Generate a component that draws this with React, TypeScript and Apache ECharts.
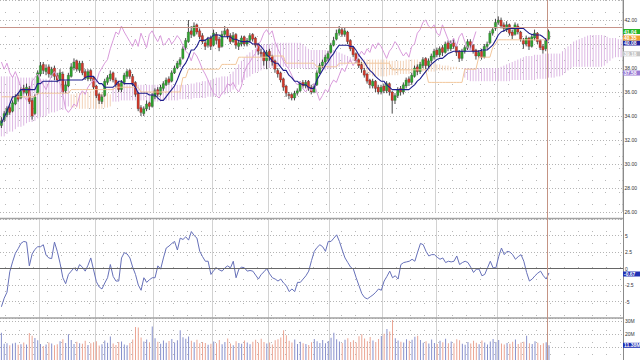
import React, { useEffect, useRef } from 'react';
import * as echarts from 'echarts';

// [open, close, low, high]
const candles: number[][] = [
  [33.2, 33.6, 33.0, 33.9], [33.7, 34.2, 33.5, 34.4], [34.1, 34.6, 33.9, 34.8], [34.7, 34.3, 34.1, 34.9], [34.4, 35.1, 34.3, 35.3],
  [35.0, 35.6, 34.9, 35.8], [35.7, 35.4, 35.2, 35.9], [35.5, 36.2, 35.4, 36.4], [36.3, 36.0, 35.8, 36.6], [35.9, 36.4, 35.7, 36.7],
  [36.3, 35.2, 35.0, 36.5], [35.3, 34.0, 33.7, 35.5], [34.2, 35.6, 34.1, 35.8], [35.9, 37.6, 35.8, 37.8], [37.5, 38.2, 37.3, 38.5],
  [38.3, 37.8, 37.5, 38.5], [37.7, 38.0, 37.4, 38.3], [38.1, 37.5, 37.2, 38.3], [37.4, 37.9, 37.2, 38.1], [38.0, 37.3, 37.0, 38.2],
  [37.4, 37.0, 36.8, 37.6], [37.0, 37.6, 36.9, 37.9], [37.5, 36.0, 35.8, 37.7], [36.1, 36.6, 35.9, 36.9], [36.5, 37.4, 36.4, 37.6],
  [37.3, 38.1, 37.2, 38.4], [38.0, 38.5, 37.8, 38.8], [38.6, 37.9, 37.7, 38.7], [37.8, 38.4, 37.6, 38.6], [38.4, 37.6, 37.4, 38.6],
  [37.7, 37.2, 37.0, 37.9], [37.1, 37.7, 36.9, 37.9], [37.8, 37.1, 36.9, 37.9], [37.2, 36.4, 36.2, 37.3], [36.5, 35.7, 35.5, 36.6],
  [35.8, 35.3, 35.0, 35.9], [35.2, 35.6, 35.0, 35.8], [35.7, 36.9, 35.6, 37.1], [36.8, 37.2, 36.6, 37.4], [37.1, 37.5, 36.9, 37.8],
  [37.6, 37.0, 36.8, 37.7], [37.0, 36.6, 36.4, 37.2], [36.7, 36.2, 36.0, 36.9], [36.2, 36.8, 36.0, 37.0], [36.8, 37.4, 36.6, 37.6],
  [37.3, 37.7, 37.1, 37.9], [37.8, 37.3, 37.1, 37.9], [37.3, 36.7, 36.5, 37.5], [36.8, 35.8, 35.6, 36.9], [35.9, 34.6, 34.4, 36.0],
  [34.7, 34.3, 34.0, 34.9], [34.2, 34.6, 34.0, 34.8], [34.6, 35.0, 34.4, 35.3], [35.1, 34.8, 34.5, 35.2], [34.8, 35.7, 34.7, 35.9],
  [35.6, 36.1, 35.4, 36.3], [36.2, 35.8, 35.6, 36.4], [35.8, 36.4, 35.7, 36.6], [36.3, 36.7, 36.1, 36.9], [36.6, 37.0, 36.5, 37.2],
  [37.1, 36.8, 36.6, 37.3], [36.9, 37.6, 36.8, 37.8], [37.6, 38.0, 37.5, 38.2], [38.0, 38.4, 37.9, 38.6], [38.3, 38.7, 38.1, 38.9],
  [38.8, 39.6, 38.7, 39.8], [39.7, 40.3, 39.5, 40.5], [40.2, 41.0, 40.1, 42.0], [41.1, 40.8, 40.5, 41.5], [40.7, 41.5, 40.6, 41.8],
  [41.6, 41.0, 40.8, 41.7], [41.1, 40.6, 40.4, 41.3], [40.7, 40.2, 40.0, 40.9], [40.1, 39.8, 39.5, 40.4], [39.9, 40.4, 39.7, 40.6],
  [40.5, 39.8, 39.5, 40.7], [39.9, 40.9, 39.8, 41.2], [40.8, 40.3, 40.0, 41.0], [40.4, 39.7, 39.4, 40.6], [39.8, 40.8, 39.7, 41.1],
  [40.8, 41.1, 40.6, 41.5], [41.2, 40.6, 40.4, 41.3], [40.7, 40.2, 40.0, 40.9], [40.2, 40.7, 40.1, 41.0], [40.8, 39.9, 39.6, 40.9],
  [39.8, 40.1, 39.5, 40.3], [40.0, 40.5, 39.8, 40.7], [40.6, 40.0, 39.8, 40.7], [40.0, 40.3, 39.8, 40.5], [40.3, 40.7, 40.1, 40.9],
  [40.8, 40.4, 40.2, 40.9], [40.5, 39.9, 39.7, 40.6], [40.0, 39.4, 39.1, 40.1], [39.3, 39.2, 38.9, 39.6], [39.3, 38.6, 38.2, 39.4],
  [38.6, 39.3, 37.9, 39.5], [39.4, 39.0, 38.6, 39.6], [39.0, 38.5, 38.2, 39.1], [38.6, 37.9, 37.6, 38.7], [37.8, 37.5, 37.2, 38.0],
  [37.6, 37.0, 36.8, 37.7], [37.1, 36.4, 36.1, 37.2], [36.5, 35.9, 35.6, 36.6], [35.8, 35.7, 35.4, 36.0], [35.8, 35.5, 35.3, 35.9],
  [35.5, 35.9, 35.3, 36.1], [35.9, 36.1, 35.7, 36.3], [36.1, 36.7, 36.0, 36.9], [36.8, 36.5, 36.3, 37.0], [36.5, 36.8, 36.3, 37.0],
  [36.9, 36.3, 36.1, 37.0], [36.4, 36.0, 35.8, 36.6], [36.0, 36.5, 35.9, 36.7], [36.6, 37.6, 36.5, 37.8], [37.6, 38.2, 37.5, 38.4],
  [38.2, 38.5, 38.0, 38.7], [38.5, 38.9, 38.3, 39.1], [38.8, 39.2, 38.6, 39.4], [39.3, 39.9, 39.2, 40.1], [39.9, 40.3, 39.8, 40.6],
  [40.4, 40.9, 40.3, 41.2], [40.9, 41.2, 40.7, 41.5], [41.2, 40.8, 40.6, 41.4], [40.8, 41.1, 40.6, 41.4], [41.0, 40.2, 40.0, 41.1],
  [40.3, 39.6, 39.4, 40.4], [39.7, 39.1, 38.9, 39.8], [39.2, 38.6, 38.4, 39.3], [38.7, 38.2, 38.0, 38.8], [38.3, 37.9, 37.6, 38.5],
  [37.8, 37.4, 37.2, 38.0], [37.5, 36.9, 36.7, 37.6], [37.0, 36.6, 36.3, 37.1], [36.5, 36.9, 36.3, 37.1], [36.9, 36.3, 36.0, 37.0],
  [36.4, 36.0, 35.8, 36.6], [36.0, 36.4, 35.8, 36.6], [36.5, 36.1, 35.9, 36.7], [36.1, 36.7, 35.9, 36.9], [36.7, 36.0, 35.7, 36.8],
  [36.0, 35.3, 34.2, 36.1], [35.3, 35.7, 35.0, 35.9], [35.7, 36.2, 35.5, 36.4], [36.3, 36.0, 35.7, 36.5], [36.0, 36.6, 35.8, 36.8],
  [36.5, 37.0, 36.3, 37.2], [37.1, 36.8, 36.5, 37.3], [36.8, 37.4, 36.6, 37.6], [37.3, 38.0, 37.2, 38.2], [38.1, 37.7, 37.4, 38.3],
  [37.7, 38.3, 37.5, 38.5], [38.2, 38.7, 38.0, 38.9], [38.8, 38.2, 37.9, 38.9], [38.2, 38.6, 38.0, 38.8], [38.6, 39.0, 38.4, 39.2],
  [38.9, 39.4, 38.7, 39.6], [39.5, 39.1, 38.9, 39.7], [39.1, 39.6, 38.9, 39.8], [39.7, 39.3, 39.0, 39.9], [39.3, 40.0, 39.2, 40.2],
  [40.1, 39.6, 39.4, 40.3], [39.6, 40.1, 39.4, 40.3], [40.1, 39.8, 39.6, 40.4], [39.8, 39.3, 39.0, 39.9], [39.4, 38.8, 38.5, 39.5],
  [38.8, 39.4, 38.6, 39.6], [39.4, 39.7, 39.2, 39.9], [39.7, 40.2, 39.5, 40.4], [40.2, 39.9, 39.6, 40.4], [39.9, 39.4, 39.2, 40.0],
  [39.5, 39.0, 38.7, 39.6], [39.0, 39.3, 38.8, 39.5], [39.4, 38.9, 38.7, 39.6], [38.9, 39.8, 38.8, 40.0], [39.8, 40.0, 39.6, 40.2],
  [40.1, 40.9, 40.0, 41.1], [40.9, 41.2, 40.7, 41.4], [41.3, 41.8, 41.1, 42.1], [41.8, 42.0, 41.6, 42.3], [42.0, 41.5, 41.3, 42.2],
  [41.6, 41.3, 41.0, 41.8], [41.2, 41.6, 41.0, 41.9], [41.6, 40.9, 40.7, 41.7], [41.0, 40.7, 40.4, 41.2], [40.8, 41.6, 40.7, 41.8],
  [41.5, 41.0, 40.8, 41.7], [41.0, 40.4, 40.2, 41.1], [40.3, 40.0, 39.6, 40.5], [40.0, 40.5, 39.8, 40.7], [40.5, 39.8, 39.5, 40.6],
  [39.8, 40.6, 39.7, 40.8], [40.5, 40.9, 40.3, 41.2], [40.9, 40.2, 40.0, 41.0], [40.3, 39.7, 39.5, 40.4], [39.8, 39.5, 39.2, 40.0],
  [39.6, 40.3, 39.4, 40.5], [40.4, 41.04, 40.3, 41.2],
];

const tenkan: number[] = [
  33.4, 33.9, 34.4, 35.0, 35.6, 35.6, 35.9, 36.2, 36.2, 36.2,
  36.2, 36.2, 36.2, 36.7, 36.7, 36.9, 36.9, 36.9, 36.9, 36.9,
  36.9, 37.0, 37.0, 37.0, 37.0, 37.0, 37.0, 37.0, 37.0, 37.0,
  37.2, 37.3, 37.3, 37.3, 37.0, 36.7, 36.7, 36.4, 36.4, 36.4,
  36.4, 36.6, 36.9, 36.9, 36.7, 36.7, 36.7, 36.7, 36.4, 35.9,
  35.9, 35.9, 35.9, 35.75, 35.75, 35.75, 35.5, 35.3, 35.3, 35.6,
  35.9, 36.2, 36.5, 37.0, 37.6, 38.1, 38.4, 38.9, 39.5, 39.5,
  39.8, 40.3, 40.3, 40.3, 40.5, 40.5, 40.75, 40.75, 40.75, 40.6,
  40.6, 40.6, 40.6, 40.4, 40.4, 40.3, 40.2, 40.2, 40.2, 40.2,
  40.0, 40.0, 40.0, 39.8, 39.5, 39.1, 38.9, 38.6, 38.4, 38.4,
  38.1, 37.8, 37.8, 37.4, 37.2, 36.9, 36.9, 36.7, 36.6, 36.6,
  36.4, 36.3, 36.3, 37.0, 37.4, 37.8, 38.2, 38.5, 38.9, 39.2,
  39.6, 39.9, 39.9, 39.9, 39.9, 39.8, 39.8, 39.5, 39.1, 38.8,
  38.5, 38.1, 37.8, 37.6, 37.3, 37.1, 36.9, 36.9, 36.6, 36.4,
  36.2, 36.2, 36.2, 36.2, 36.2, 36.2, 36.2, 36.4, 36.6, 36.9,
  37.1, 37.4, 37.7, 38.0, 38.3, 38.5, 38.7, 38.8, 38.8, 39.0,
  39.2, 39.3, 39.4, 39.4, 39.4, 39.4, 39.4, 39.4, 39.4, 39.4,
  39.4, 39.4, 39.5, 39.5, 39.5, 39.7, 39.9, 40.3, 40.75, 41.0,
  41.1, 41.2, 41.3, 41.3, 41.3, 41.3, 41.3, 41.3, 41.1, 40.9,
  40.8, 40.75, 40.75, 40.75, 40.6, 40.4, 40.08,
];

const kijun: number[] = [
  35.6, 35.6, 35.6, 35.6, 35.6, 35.6, 35.6, 35.6, 35.6, 35.6,
  35.6, 35.6, 35.6, 35.9, 35.9, 35.9, 35.9, 35.9, 35.9, 35.9,
  35.9, 35.9, 35.9, 35.9, 35.9, 36.2, 36.2, 36.2, 36.2, 36.2,
  36.2, 36.2, 36.2, 36.2, 36.2, 36.2, 36.2, 36.2, 36.2, 36.2,
  36.2, 36.4, 36.4, 36.4, 36.4, 36.4, 36.4, 36.4, 36.4, 36.4,
  36.0, 36.0, 36.0, 36.0, 36.0, 36.0, 36.0, 36.0, 36.0, 36.0,
  36.0, 36.0, 36.0, 36.0, 36.0, 37.2, 37.2, 37.9, 37.9, 37.9,
  37.9, 37.9, 37.9, 37.9, 37.9, 37.9, 37.9, 37.9, 37.9, 38.3,
  38.3, 38.3, 38.3, 38.3, 38.3, 38.9, 38.9, 38.9, 38.9, 38.9,
  38.9, 38.9, 38.9, 38.9, 38.9, 38.9, 38.9, 39.0, 39.0, 39.0,
  39.0, 39.0, 38.4, 38.4, 38.4, 38.4, 38.4, 38.4, 38.4, 38.4,
  38.4, 38.4, 38.4, 38.1, 38.1, 38.1, 38.1, 38.1, 38.1, 38.1,
  38.1, 38.4, 38.4, 38.4, 38.4, 38.4, 38.4, 38.4, 38.4, 38.4,
  38.4, 38.4, 38.4, 38.4, 38.4, 38.4, 38.4, 38.4, 38.4, 38.4,
  37.85, 37.85, 37.85, 37.85, 37.85, 37.85, 37.85, 37.85, 37.85, 37.85,
  37.85, 37.85, 37.85, 36.8, 36.8, 36.8, 36.8, 36.8, 36.8, 36.8,
  36.8, 36.8, 36.8, 36.8, 36.8, 36.8, 37.9, 37.9, 37.9, 37.9,
  37.9, 38.9, 38.9, 38.9, 38.9, 38.9, 39.7, 40.0, 40.35, 40.35,
  40.35, 40.35, 40.35, 40.35, 40.35, 40.35, 40.35, 40.35, 40.35, 40.35,
  40.35, 40.35, 40.35, 40.35, 40.35, 40.35, 40.35,
];

// Senkou spans, already shifted 26 bars ahead (length = candles + 26)
const spanA: number[] = [
  32.3, 32.3, 32.5, 32.7, 32.7, 32.9, 33.1, 33.1, 33.2, 33.4,
  33.5, 33.5, 33.6, 33.8, 33.9, 33.9, 34.0, 34.2, 34.3, 34.3,
  34.4, 34.5, 34.5, 34.6, 34.8,
  35.8, 35.8, 35.9, 35.9, 36.0, 36.0, 36.0, 36.1, 36.1, 36.0,
  36.0, 36.0, 35.9, 35.9, 35.8,
  35.2, 35.2, 35.2, 35.3, 35.3, 35.3, 35.3, 35.3, 35.3, 35.3,
  35.3, 35.3, 35.3, 35.2, 35.2, 35.2, 35.2, 35.2, 35.3, 35.3,
  35.3, 35.3, 35.3, 35.3, 35.4, 35.4, 35.4, 35.4, 35.4, 35.5,
  35.5, 35.5, 35.5, 35.5, 35.6, 35.6,
  35.6, 35.7, 35.7, 35.8, 35.8, 35.9, 36.0, 36.2, 36.4, 36.6,
  36.8, 37.0, 37.2, 37.3, 37.5, 37.6, 37.7, 37.8, 37.9, 38.0,
  38.0, 38.0, 38.1, 38.1, 38.1, 38.1, 38.1, 38.0, 38.0, 38.0,
  38.0, 38.0, 38.0, 37.9, 37.9, 37.9, 37.9, 37.8, 37.8, 37.8,
  37.8, 37.9, 37.9, 38.0, 38.0, 38.1, 38.2, 38.3, 38.4, 38.5,
  38.6, 38.6,
  38.7, 38.7, 38.7, 38.7, 38.7, 38.7, 38.7, 38.7, 38.7, 38.7,
  38.7, 38.6, 38.6, 38.6, 38.6, 38.6, 38.6, 38.7, 38.7, 38.7,
  38.7, 38.7, 38.6, 38.6, 38.5, 38.5, 38.4, 38.4, 38.3, 38.3,
  38.2, 38.2, 38.2, 38.1, 38.1, 38.1, 38.0, 38.0,
  37.2, 37.0, 36.9, 36.9, 36.9, 36.9, 36.9, 36.9, 36.9, 36.9,
  36.9, 36.9, 36.9,
  36.9, 36.9, 36.9, 36.9, 37.0, 37.0, 37.0, 37.0, 37.0, 37.0,
  37.0, 37.0, 37.0, 37.1, 37.1, 37.1, 37.1, 37.2, 37.2, 37.2,
  37.3, 37.3,
  37.4, 37.6, 37.8, 38.0, 38.1, 38.1, 38.1, 38.1, 38.1, 38.1,
  38.1, 38.1, 38.1, 38.1, 38.1, 38.2, 38.4, 38.6, 38.8, 38.9,
  38.9, 38.9,
];

const spanB: number[] = [
  37.3, 37.3, 37.3, 37.3, 37.3, 37.3, 37.2, 37.2, 37.2, 37.2,
  37.2, 37.2, 37.1, 37.1, 37.1, 37.1, 37.1, 37.0, 37.0, 37.0,
  37.0, 37.0, 37.0, 37.0, 37.0,
  34.7, 34.7, 34.7, 34.6, 34.6, 34.6, 34.6, 34.6, 34.6, 34.6,
  34.6, 34.6, 34.7, 34.7, 34.8,
  36.4, 36.5, 36.6, 36.6, 36.6, 36.6, 36.6, 36.6, 36.6, 36.6,
  36.6, 36.6, 36.6, 36.6, 36.6, 36.6, 36.6, 36.6, 36.6, 36.6,
  36.6, 36.6, 36.6, 36.6, 36.6, 36.6, 36.6, 36.6, 36.7, 36.7,
  36.8, 36.8, 36.9, 36.9, 37.0, 37.0,
  37.1, 37.2, 37.2, 37.3, 37.3, 37.3, 37.5, 37.7, 38.0, 38.3,
  38.6, 38.9, 39.1, 39.3, 39.5, 39.6, 39.8, 39.9, 40.0, 40.0,
  40.0, 40.1, 40.1, 40.1, 40.1, 40.1, 40.1, 40.1, 40.1, 40.1,
  40.1, 40.1, 40.0, 39.8, 39.6, 39.5, 39.5, 39.5, 39.5, 39.5,
  39.5, 39.5, 39.5, 39.5, 39.4, 39.3, 39.2, 39.1, 39.0, 38.9,
  38.8, 38.7,
  38.5, 38.2, 37.9, 37.6, 37.4, 37.3, 37.3, 37.3, 37.3, 37.3,
  37.3, 37.4, 37.4, 37.4, 37.4, 37.5, 37.5, 37.5, 37.5, 37.6,
  37.6, 37.6, 37.7, 37.7, 37.7, 37.7, 37.7, 37.7, 37.8, 37.8,
  37.8, 37.8, 37.8, 37.8, 37.9, 37.9, 37.9, 37.9,
  38.0, 38.0, 38.0, 38.0, 38.0, 38.0, 38.0, 38.0, 38.0, 38.0,
  38.0, 38.0, 38.0,
  38.1, 38.2, 38.3, 38.4, 38.5, 38.6, 38.7, 38.8, 38.9, 39.0,
  39.0, 39.0, 39.1, 39.1, 39.1, 39.2, 39.2, 39.2, 39.2, 39.2,
  39.2, 39.2,
  39.4, 39.6, 39.8, 40.0, 40.2, 40.3, 40.4, 40.5, 40.6, 40.7,
  40.75, 40.75, 40.75, 40.75, 40.75, 40.7, 40.6, 40.5, 40.5, 40.5,
  40.4, 40.4,
];

const oscillator: number[] = [
  -5.8, -4.5, -3.6, -0.5, 1.0, 2.3, 3.0, 3.8, 4.1, 4.0,
  0.4, 2.2, 2.9, 3.3, 3.3, 3.6, 2.0, 1.6, 1.5, 4.0,
  2.6, 0.8, -1.4, -2.3, -0.9, -0.4, 0.1, -0.4, 0.6, 0.2,
  -0.4, 0.5, 1.6, -0.2, -2.0, -2.8, -3.1, -2.2, -1.4, 0.6,
  -1.2, -1.9, -1.9, 1.6, 2.4, 2.2, 1.6, 0.2, -0.9, -2.5,
  -3.3, -1.4, -2.1, -1.7, -1.4, -1.4, 0.4, -0.1, 1.6, 3.1,
  3.4, 3.8, 4.1, 2.8, 4.6, 4.4, 4.8, 4.3, 5.6, 5.0,
  4.6, 2.6, 1.8, 1.1, 1.1, -0.9, -0.3, 0.1, -0.2, -0.4,
  0.1, 0.4, 0.1, 1.1, -1.4, -0.1, 0.2, 0.1, -0.4, -0.3,
  -0.4, -1.0, -1.6, -0.9, -0.5, 0.0, -0.8, -1.4, -1.6, -1.9,
  -1.6, -2.2, -2.6, -3.5, -3.1, -3.5, -2.1, -2.1, -1.6, -1.1,
  -0.4, 1.2, 2.6, 3.2, 3.6, 3.3, 2.6, 4.1, 4.1, 4.6,
  5.1, 4.1, 2.8, 1.6, 0.9, 0.2, -0.1, -1.4, -2.6, -3.8,
  -4.4, -4.6, -4.3, -4.0, -3.6, -3.1, -3.3, -1.9, -1.2, -0.4,
  -1.4, -1.1, -1.6, 0.6, 0.9, 1.0, 1.1, 1.4, 1.1, 2.5,
  3.8, 3.6, 2.6, 1.9, 2.1, 2.1, 1.7, 1.4, 1.6, 0.9,
  1.1, 1.0, 1.1, 1.9, 0.6, 0.9, 1.1, 0.9, 0.2, -0.6,
  -0.1, -0.1, -1.1, -0.9, 0.1, 1.1, 0.1, 0.1, 1.8, 3.1,
  2.1, 2.6, 2.5, 2.1, 1.4, 1.8, 2.1, 1.1, -0.6, -1.9,
  -1.6, -1.1, -0.7, -0.4, -1.1, -1.6, -0.67,
];

// volume in millions
const volume: number[] = [
  21.0, 12.5, 13.0, 11.5, 12.8, 13.4, 11.8, 12.2, 13.5, 12.0,
  20.8, 18.8, 17.0, 15.2, 12.4, 10.8, 11.9, 13.6, 12.7, 11.4,
  12.2, 14.5, 16.0, 13.1, 20.0, 15.4, 12.3, 14.1, 13.0, 12.6,
  14.8, 11.7, 12.9, 13.8, 14.6, 11.2, 12.1, 15.0, 13.3, 18.2,
  12.8, 11.6, 13.9, 14.4, 12.0, 11.5, 13.2, 15.8, 25.6, 25.2,
  17.4, 14.3, 15.9, 13.7, 26.0, 16.8, 14.2, 12.6, 15.1, 13.4,
  14.7, 16.2, 13.5, 15.3, 23.0, 17.6, 16.4, 18.1, 14.9, 13.8,
  15.6, 12.9, 14.0, 13.1, 11.8, 12.6, 14.3, 13.0, 15.5, 12.2,
  13.9, 16.7, 12.8, 11.4, 14.6, 13.2, 12.5, 15.0, 13.6, 12.1,
  14.2, 15.7, 13.3, 16.4, 14.0, 12.7, 13.5, 11.9, 15.2, 16.1,
  17.5, 23.0, 19.2, 14.8, 13.6, 15.9, 12.4, 14.1, 13.0, 12.3,
  11.6, 13.8, 16.3, 14.6, 13.1, 15.4, 12.9, 14.7, 17.2, 21.0,
  16.0, 14.4, 13.2, 15.6, 16.9, 14.0, 15.3, 13.6, 18.4, 20.0,
  16.6, 14.5, 17.8, 15.1, 13.9, 16.2, 18.5, 20.3, 24.0, 22.1,
  31.0, 16.8, 15.0, 14.2, 13.5, 16.0, 14.8, 15.7, 17.9, 18.8,
  15.5, 13.3, 14.6, 12.8, 15.9, 13.1, 12.4, 14.9, 13.7, 16.5,
  12.9, 14.3, 13.0, 16.1, 15.2, 12.6, 11.8, 13.9, 12.7, 14.8,
  13.4, 12.2, 15.1, 13.6, 12.0, 14.4, 16.2, 13.9, 15.4, 12.8,
  11.9, 13.1, 12.5, 14.2, 15.8, 12.3, 13.6, 14.1, 18.8, 13.0,
  12.4, 14.6, 13.3, 11.7, 12.9, 13.8, 11.38,
];

const priceTicks = ['26.00', '28.00', '30.00', '32.00', '34.00', '36.00', '38.00', '42.00'];
const oscTicks = ['-5', '-2.5', '0', '2.5', '5'];
const volTicks = ['20M', '30M'];
const referenceLevel = 41.38;
const priceBadges = [
  { value: 37.58, text: '37.58', bg: '#9a7cd4' },
  { value: 39.18, text: '39.18', bg: '#c4c4c4' },
  { value: 40.08, text: '40.08', bg: '#24249a' },
  { value: 40.35, text: '40.35', bg: '#f0a030' },
  { value: 41.04, text: '41.04', bg: '#26b526' },
];
const oscBadge = { value: -0.67, text: '-0.67', bg: '#2232b4' };
const volBadge = { value: 11.38, text: '11.38M', bg: '#1a2ab0' };
const monthStarts = [14, 34, 55, 76, 96, 118, 137, 156, 178];

const AHEAD = 26;
const N = candles.length;
const categories = Array.from({ length: N + AHEAD }, (_, i) => 'd' + i);

const GREEN = '#2fa52f';
const RED = '#d2382a';
const HATCH_PURPLE = '#d3a6dc';
const HATCH_TAN = '#f0c6a6';
const FONT = 'Liberation Sans';

export default function App() {
  const ref = useRef<HTMLDivElement>(null);
  useEffect(() => {
    if (!ref.current) return;
    const chart = echarts.init(ref.current, null, { renderer: 'svg' });

    const grids = [
      { left: 0, right: 17, top: 0, height: 212 },
      { left: 0, right: 17, top: 219, height: 99 },
      { left: 0, right: 17, top: 318, height: 52 },
    ];

    const xAxes: any[] = [];
    grids.forEach((_, g) => {
      xAxes.push({
        type: 'category', gridIndex: g, data: categories, boundaryGap: true,
        axisLine: { show: false }, axisTick: { show: false }, axisLabel: { show: false },
        splitLine: { show: true, interval: (idx: number) => monthStarts.includes(idx), lineStyle: { color: '#d2d2d2', width: 1 } },
      });
      xAxes.push({
        type: 'category', gridIndex: g, data: categories, boundaryGap: true, position: 'top',
        axisLine: { show: false }, axisTick: { show: false }, axisLabel: { show: false },
        splitLine: { show: true, interval: (idx: number) => idx % 5 === 2 && !monthStarts.includes(idx), lineStyle: { color: '#b8b8b8', width: 1, type: [1, 11] } },
      });
    });

    const labelStyle = { fontSize: 5, lineHeight: 5, color: '#333', fontFamily: FONT, margin: 2 };
    const dotted = { show: true, lineStyle: { color: '#b4b4b4', width: 1, type: [1, 2] } };

    const option: any = {
      animation: false,
      backgroundColor: '#ffffff',
      textStyle: { fontFamily: FONT },
      grid: grids,
      xAxis: xAxes,
      yAxis: [
        {
          type: 'value', gridIndex: 0, position: 'right', min: 26, max: 43.6667, interval: 2,
          axisLine: { show: false }, axisTick: { show: false },
          axisLabel: { ...labelStyle, formatter: (v: number) => (priceTicks.includes(v.toFixed(2)) ? v.toFixed(2) : '') },
          splitLine: dotted,
        },
        {
          type: 'value', gridIndex: 1, position: 'right', min: -7.5, max: 7.5, interval: 2.5,
          axisLine: { show: false }, axisTick: { show: false },
          axisLabel: { ...labelStyle, formatter: (v: number) => (oscTicks.includes(String(v)) ? String(v) : '') },
          splitLine: dotted,
        },
        {
          type: 'value', gridIndex: 2, position: 'right', min: 0, max: 32.5, interval: 10,
          axisLine: { show: false }, axisTick: { show: false },
          axisLabel: { ...labelStyle, formatter: (v: number) => (volTicks.includes(v + 'M') ? v + 'M' : '') },
          splitLine: dotted,
        },
      ],
      series: [
        {
          type: 'custom', name: 'cloud', xAxisIndex: 0, yAxisIndex: 0,
          data: spanA.map((a, i) => [i, a, spanB[i]]),
          encode: { x: 0, y: [1, 2] },
          renderItem: (_p: any, api: any) => {
            const i = api.value(0);
            const a = api.value(1);
            const b = api.value(2);
            const p1 = api.coord([i, a]);
            const p2 = api.coord([i, b]);
            return {
              type: 'line',
              shape: { x1: p1[0], y1: p1[1], x2: p1[0], y2: p2[1] },
              style: { stroke: a >= b ? HATCH_TAN : HATCH_PURPLE, lineWidth: 0.8 },
            };
          },
        },
        {
          type: 'line', name: 'chikou', xAxisIndex: 0, yAxisIndex: 0, symbol: 'none',
          data: candles.slice(AHEAD).map((d) => d[1]),
          lineStyle: { color: '#d99bdb', width: 1 },
        },
        {
          type: 'line', name: 'kijun', xAxisIndex: 0, yAxisIndex: 0, symbol: 'none',
          data: kijun, lineStyle: { color: '#f2c79c', width: 1 },
        },
        {
          type: 'line', name: 'tenkan', xAxisIndex: 0, yAxisIndex: 0, symbol: 'none',
          data: tenkan, lineStyle: { color: '#1e1e8c', width: 1.1 },
          markLine: {
            silent: true, symbol: 'none', label: { show: false },
            lineStyle: { color: '#c8948a', width: 1, type: 'solid' },
            data: [{ yAxis: referenceLevel }],
          },
        },
        {
          type: 'custom', name: 'price', xAxisIndex: 0, yAxisIndex: 0,
          data: candles.map((d, i) => [i, d[0], d[1], d[2], d[3]]),
          encode: { x: 0, y: [1, 2, 3, 4] },
          renderItem: (_p: any, api: any) => {
            const i = api.value(0);
            const o = api.value(1);
            const c = api.value(2);
            const l = api.value(3);
            const h = api.value(4);
            const pO = api.coord([i, o]);
            const pC = api.coord([i, c]);
            const pL = api.coord([i, l]);
            const pH = api.coord([i, h]);
            const x = pO[0];
            const top = Math.min(pO[1], pC[1]);
            const bh = Math.max(Math.abs(pO[1] - pC[1]), 1);
            return {
              type: 'group',
              children: [
                { type: 'line', shape: { x1: x, y1: pH[1], x2: x, y2: pL[1] }, style: { stroke: '#1a1a1a', lineWidth: 0.8 } },
                { type: 'rect', shape: { x: x - 1.2, y: top, width: 2.4, height: bh }, style: { fill: c >= o ? GREEN : RED, stroke: '#333', lineWidth: 0.25 } },
              ],
            };
          },
        },
        {
          type: 'line', name: 'oscillator', xAxisIndex: 2, yAxisIndex: 1, symbol: 'none',
          data: oscillator, lineStyle: { color: '#6670b8', width: 1 },
          markLine: {
            silent: true, symbol: 'none', label: { show: false },
            lineStyle: { color: '#666', width: 1, type: 'solid' },
            data: [{ yAxis: 0 }],
          },
        },
        {
          type: 'bar', name: 'volume', xAxisIndex: 4, yAxisIndex: 2, barWidth: 1,
          data: volume.map((v, i) => ({
            value: v,
            itemStyle: { color: candles[i][1] >= candles[i][0] ? '#8790cc' : '#eba594' },
          })),
        },
      ],
    };
    chart.setOption(option);

    const W = chart.getWidth();
    const H = chart.getHeight();
    const axisX = W - 17;
    const todayX = (chart.convertToPixel({ xAxisIndex: 0 }, N - 1) as number) - 1;

    const badgeH = 5;
    const labelGap = 5; // keep badges clear of the tick labels
    const badge = (y: number, text: string, bg: string) => [
      { type: 'rect', z: 100, shape: { x: axisX, y: y - badgeH / 2, width: W - axisX, height: badgeH }, style: { fill: bg } },
      { type: 'text', z: 101, x: axisX + 1, y, style: { text, fill: '#ffffff', fontSize: 5, lineHeight: 5, fontFamily: FONT, fontWeight: 'bold', verticalAlign: 'middle', align: 'left' } },
    ];

    // stack price badges upward when they collide
    const ys = priceBadges.map((b) => chart.convertToPixel({ yAxisIndex: 0 }, b.value) as number);
    const tick38 = chart.convertToPixel({ yAxisIndex: 0 }, 38) as number;
    if (ys[0] < tick38 + labelGap) ys[0] = tick38 + labelGap;
    for (let k = 1; k < ys.length; k++) {
      if (ys[k] > ys[k - 1] - badgeH) ys[k] = ys[k - 1] - badgeH;
    }
    const zeroY = chart.convertToPixel({ yAxisIndex: 1 }, 0) as number;
    const oscY = Math.max(chart.convertToPixel({ yAxisIndex: 1 }, oscBadge.value) as number, zeroY + labelGap + 0.5);
    const volY = Math.min(chart.convertToPixel({ yAxisIndex: 2 }, volBadge.value) as number, H - badgeH / 2 - 2);

    const graphics: any[] = [
      { type: 'line', z: 50, shape: { x1: 0, y1: 218.5, x2: axisX, y2: 218.5 }, style: { stroke: '#a2a2a2', lineWidth: 1.5 } },
      { type: 'line', z: 50, shape: { x1: 0, y1: 318, x2: axisX, y2: 318 }, style: { stroke: '#a2a2a2', lineWidth: 1.5 } },
      { type: 'line', z: 50, shape: { x1: axisX + 0.5, y1: 0, x2: axisX + 0.5, y2: H }, style: { stroke: '#8a8a8a', lineWidth: 1 } },
      { type: 'line', z: 50, shape: { x1: todayX, y1: 0, x2: todayX, y2: H }, style: { stroke: '#c49484', lineWidth: 1 } },
    ];
    priceBadges.forEach((b, k) => graphics.push(...badge(ys[k], b.text, b.bg)));
    graphics.push(...badge(oscY, oscBadge.text, oscBadge.bg));
    graphics.push(...badge(volY, volBadge.text, volBadge.bg));
    chart.setOption({ graphic: graphics });

    return () => chart.dispose();
  }, []);

  return (
    <div
      ref={ref}
      style={{ position: 'fixed', left: 0, top: 0, width: 640, height: 360, background: '#fff', overflow: 'hidden' }}
    />
  );
}
